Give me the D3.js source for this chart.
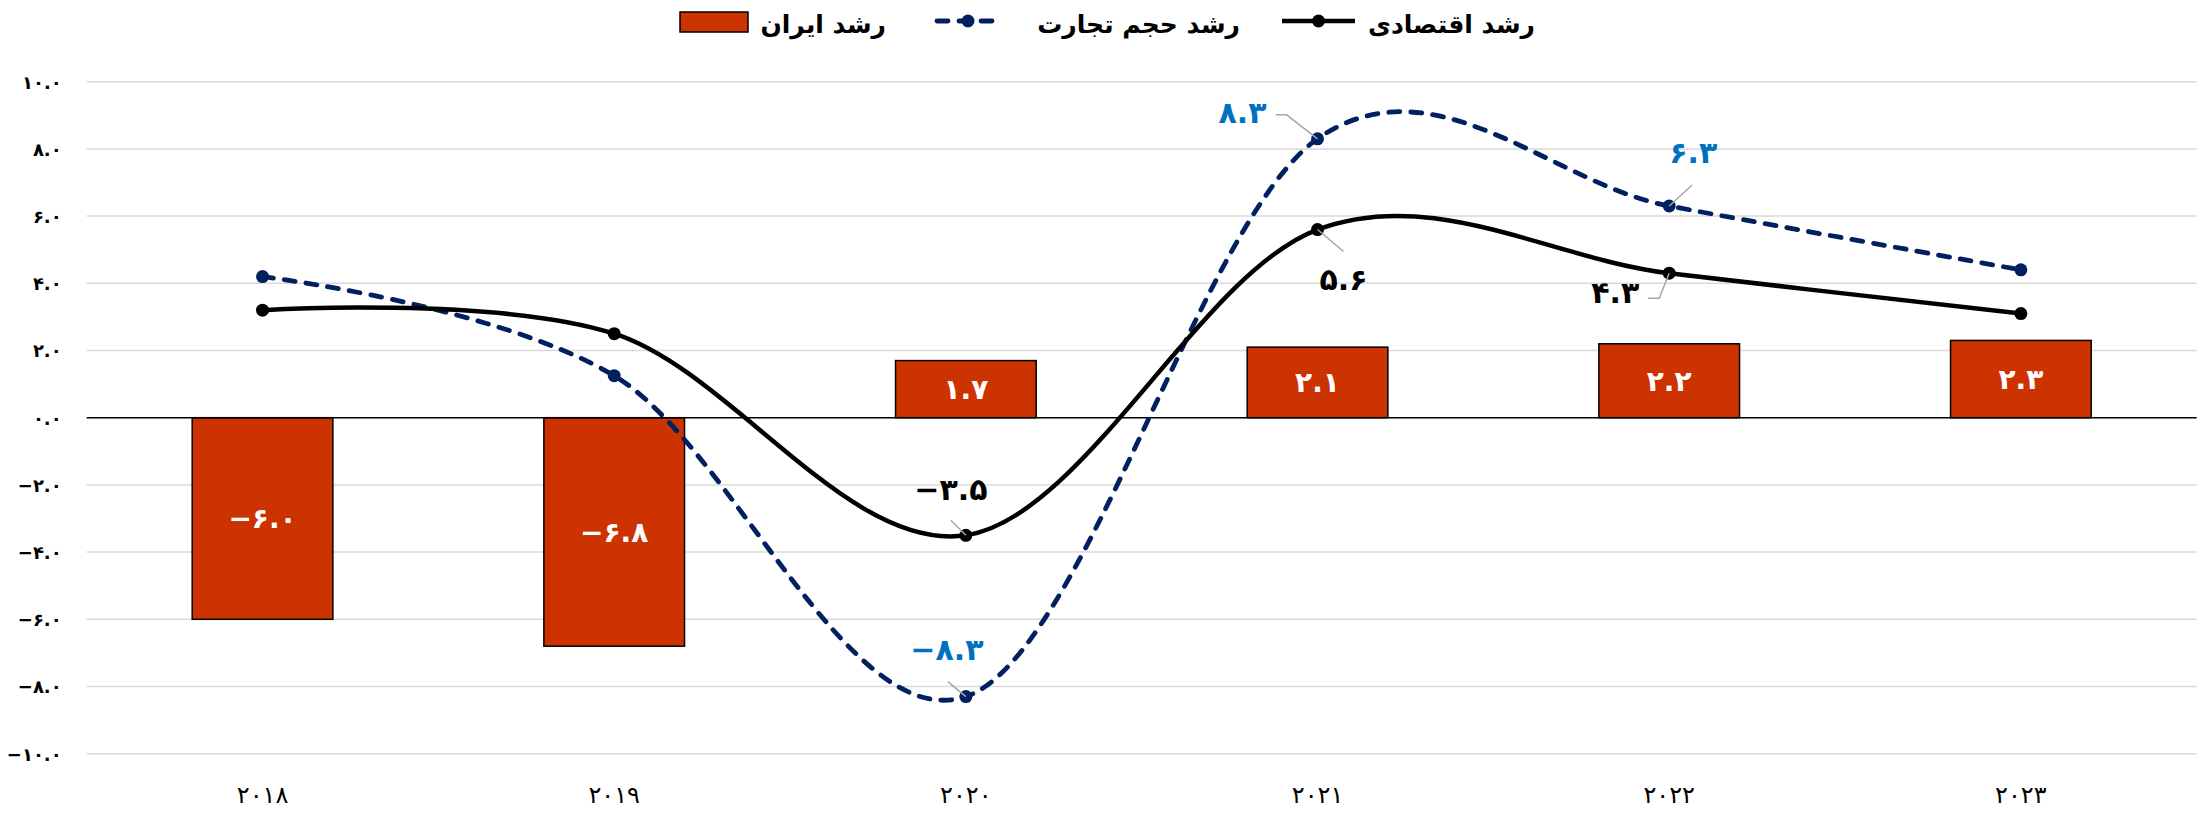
<!DOCTYPE html>
<html><head><meta charset="utf-8">
<script src="https://cdn.jsdelivr.net/npm/d3@7"></script>
<style>
html,body{margin:0;padding:0;background:#fff;}
svg{display:block;font-family:"DejaVu Sans",sans-serif;}
</style></head>
<body>
<svg id="chart" width="2198" height="816"></svg>
<script>
const categories = ["2018","2019","2020","2021","2022","2023"];
const iranGrowth = [-6.0, -6.8, 1.7, 2.1, 2.2, 2.3];
const tradeGrowth = [4.2, 1.25, -8.3, 8.3, 6.3, 4.4];
const econGrowth = [3.2, 2.5, -3.5, 5.6, 4.3, 3.1];
const yTicks = [-10,-8,-6,-4,-2,0,2,4,6,8,10];
const legendLabels = ["رشد اقتصادی", "رشد حجم تجارت", "رشد ایران"];

const fa = s => String(s).replace(/\d/g, d => "۰۱۲۳۴۵۶۷۸۹"[d]).replace(/-/g, "−");
const fmt = v => fa(d3.format(".1f")(v));

const svg = d3.select("#chart");
const W = 2198, H = 816;
const m = {left: 86.7, right: 1.3, top: 81.7, bottom: 62.3};

const x = d3.scaleBand().domain(categories).range([m.left, W - m.right]).paddingInner(0.6).paddingOuter(0.3);
const xc = d => x(d) + x.bandwidth() / 2;
const y = d3.scaleLinear().domain([-10, 10]).range([H - m.bottom, m.top]);

// gridlines
svg.append("g").selectAll("line").data(yTicks.filter(t => t !== 0)).join("line")
  .attr("x1", m.left).attr("x2", W - m.right)
  .attr("y1", d => y(d)).attr("y2", d => y(d))
  .attr("stroke", "#d9d9d9").attr("stroke-width", 1.5);

// y axis labels
const yAxis = d3.axisLeft(y).tickValues(yTicks).tickSize(0).tickPadding(0).tickFormat(fmt);
const yg = svg.append("g").attr("transform", `translate(${m.left - 25},0)`).call(yAxis);
yg.select(".domain").remove();
yg.selectAll("text").attr("font-size", 18).attr("font-weight", "bold").attr("fill", "#000")
  .attr("font-family", "DejaVu Sans").attr("dy", "0.35em");

// x axis labels
const xAxis = d3.axisBottom(x).tickSize(0).tickPadding(0).tickFormat(fa);
const xg = svg.append("g").attr("transform", `translate(0,${H - 13})`).call(xAxis);
xg.select(".domain").remove();
xg.selectAll("text").attr("font-size", 24).attr("fill", "#000").attr("dy", 0)
  .attr("font-family", "DejaVu Sans");

// bars
svg.append("g").selectAll("rect").data(iranGrowth).join("rect")
  .attr("x", (d, i) => x(categories[i]))
  .attr("width", x.bandwidth())
  .attr("y", d => y(Math.max(0, d)))
  .attr("height", d => Math.abs(y(d) - y(0)))
  .attr("fill", "#CC3300").attr("stroke", "#000").attr("stroke-width", 1.5);

// zero line
svg.append("line").attr("x1", m.left).attr("x2", W - m.right)
  .attr("y1", y(0)).attr("y2", y(0)).attr("stroke", "#000").attr("stroke-width", 1.5);

// bar labels
svg.append("g").selectAll("text").data(iranGrowth).join("text")
  .attr("x", (d, i) => xc(categories[i]))
  .attr("y", d => (y(d) + y(0)) / 2)
  .attr("dy", "0.35em")
  .attr("text-anchor", "middle").attr("font-size", 28).attr("font-weight", "bold")
  .attr("fill", "#fff").text(fmt);

// lines
const line = d3.line().x((d, i) => xc(categories[i])).y(d => y(d)).curve(d3.curveCardinal.tension(0));
svg.append("path").datum(tradeGrowth).attr("d", line).attr("fill", "none")
  .attr("stroke", "#002060").attr("stroke-width", 4.8).attr("stroke-dasharray", "11,11").attr("stroke-linecap", "round");
svg.append("path").datum(econGrowth).attr("d", line).attr("fill", "none")
  .attr("stroke", "#000").attr("stroke-width", 4.5);

svg.append("g").selectAll("circle").data(tradeGrowth).join("circle")
  .attr("cx", (d, i) => xc(categories[i])).attr("cy", d => y(d)).attr("r", 6.5).attr("fill", "#002060");
svg.append("g").selectAll("circle").data(econGrowth).join("circle")
  .attr("cx", (d, i) => xc(categories[i])).attr("cy", d => y(d)).attr("r", 6.5).attr("fill", "#000");

// data labels with leader lines (offsets relative to point)
const labelDefs = [
  {s: econGrowth, i: 2, color: "#000", tx: -15, ty: -35, leader: [[-15, -15]]},
  {s: tradeGrowth, i: 2, color: "#0070C0", tx: -19, ty: -37, leader: [[-18, -15]]},
  {s: tradeGrowth, i: 3, color: "#0070C0", tx: -75, ty: -16, leader: [[-31, -24], [-42, -24]]},
  {s: econGrowth, i: 3, color: "#000", tx: 26, ty: 60, leader: [[26, 22]]},
  {s: tradeGrowth, i: 4, color: "#0070C0", tx: 24, ty: -43, leader: [[23, -21]]},
  {s: econGrowth, i: 4, color: "#000", tx: -54, ty: 30, leader: [[-10, 25], [-21, 25]]},
];
const lg = svg.append("g");
labelDefs.forEach(L => {
  const px = xc(categories[L.i]), py = y(L.s[L.i]);
  const pts = [[px, py]].concat(L.leader.map(o => [px + o[0], py + o[1]]));
  lg.append("path").attr("d", d3.line()(pts)).attr("fill", "none").attr("stroke", "#a6a6a6").attr("stroke-width", 1.5);
  lg.append("text").attr("x", px + L.tx).attr("y", py + L.ty).attr("text-anchor", "middle")
    .attr("font-size", 30).attr("font-weight", "bold").attr("fill", L.color).text(fmt(L.s[L.i]));
});

// legend
const leg = svg.append("g").attr("font-size", 25).attr("font-weight", "bold").attr("fill", "#000");
// economic growth
leg.append("line").attr("x1", 1282).attr("x2", 1355).attr("y1", 21).attr("y2", 21).attr("stroke", "#000").attr("stroke-width", 4.5);
leg.append("circle").attr("cx", 1318.5).attr("cy", 21).attr("r", 6.5).attr("fill", "#000");
leg.append("text").attr("x", 1535).attr("y", 33).attr("text-anchor", "end").text(legendLabels[0]);
// trade growth
leg.append("line").attr("x1", 937).attr("x2", 999).attr("y1", 21).attr("y2", 21).attr("stroke", "#002060")
  .attr("stroke-width", 4.8).attr("stroke-dasharray", "11,11").attr("stroke-linecap", "round");
leg.append("circle").attr("cx", 968).attr("cy", 21).attr("r", 6.5).attr("fill", "#002060");
leg.append("text").attr("x", 1240).attr("y", 33).attr("text-anchor", "end").text(legendLabels[1]);
// iran growth
leg.append("rect").attr("x", 680).attr("y", 12).attr("width", 68).attr("height", 20)
  .attr("fill", "#CC3300").attr("stroke", "#000").attr("stroke-width", 1.5);
leg.append("text").attr("x", 886).attr("y", 33).attr("text-anchor", "end").text(legendLabels[2]);
</script>
</body></html>
